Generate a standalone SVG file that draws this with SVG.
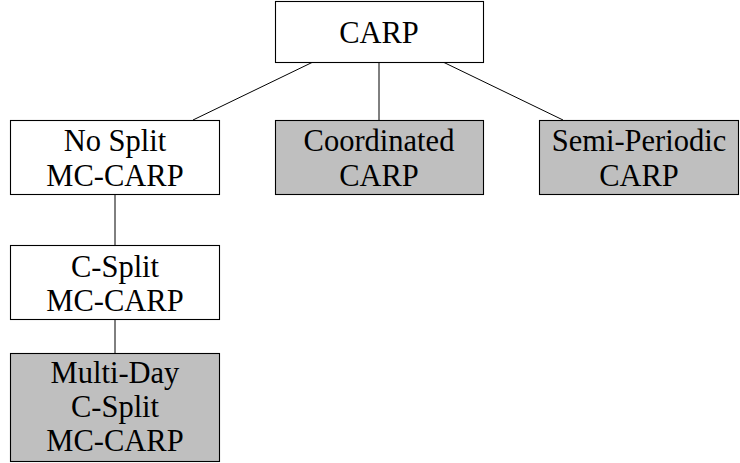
<svg xmlns="http://www.w3.org/2000/svg" width="740" height="463" viewBox="0 0 740 463">
<style>
rect{stroke:#000;stroke-width:1.1;fill:#fff}
rect.g{fill:#bfbfbf}
text{font-family:'Liberation Serif','Times New Roman',serif;font-size:30.5px;text-anchor:middle;fill:#000}
#edges line{stroke:#000;stroke-width:1}
</style>
<rect x="0" y="0" width="740" height="463" style="stroke:none;fill:#fff"/>
<g id="edges">
<line x1="313" y1="62" x2="193" y2="120"/>
<line x1="379" y1="62" x2="379" y2="120"/>
<line x1="443" y1="62" x2="563" y2="120"/>
<line x1="115" y1="194" x2="115" y2="245"/>
<line x1="115" y1="319" x2="115" y2="353"/>
</g>
<g id="carp">
<rect x="275.5" y="1.5" width="208" height="61"/>
<text x="379" y="43">CARP</text>
</g>
<g id="nosplit">
<rect x="10.5" y="120.5" width="209" height="74"/>
<text x="115" y="151">No Split</text>
<text x="115" y="186">MC-CARP</text>
</g>
<g id="coordinated">
<rect class="g" x="275.5" y="120.5" width="208" height="74"/>
<text x="379" y="151">Coordinated</text>
<text x="379" y="186">CARP</text>
</g>
<g id="semiperiodic">
<rect class="g" x="539.5" y="120.5" width="199" height="74"/>
<text x="639" y="151">Semi-Periodic</text>
<text x="639" y="186">CARP</text>
</g>
<g id="csplit">
<rect x="10.5" y="245.5" width="209" height="74"/>
<text x="115" y="277">C-Split</text>
<text x="115" y="311">MC-CARP</text>
</g>
<g id="multiday">
<rect class="g" x="10.5" y="353.5" width="209" height="108"/>
<text x="115" y="383">Multi-Day</text>
<text x="115" y="417">C-Split</text>
<text x="115" y="451">MC-CARP</text>
</g>
</svg>
